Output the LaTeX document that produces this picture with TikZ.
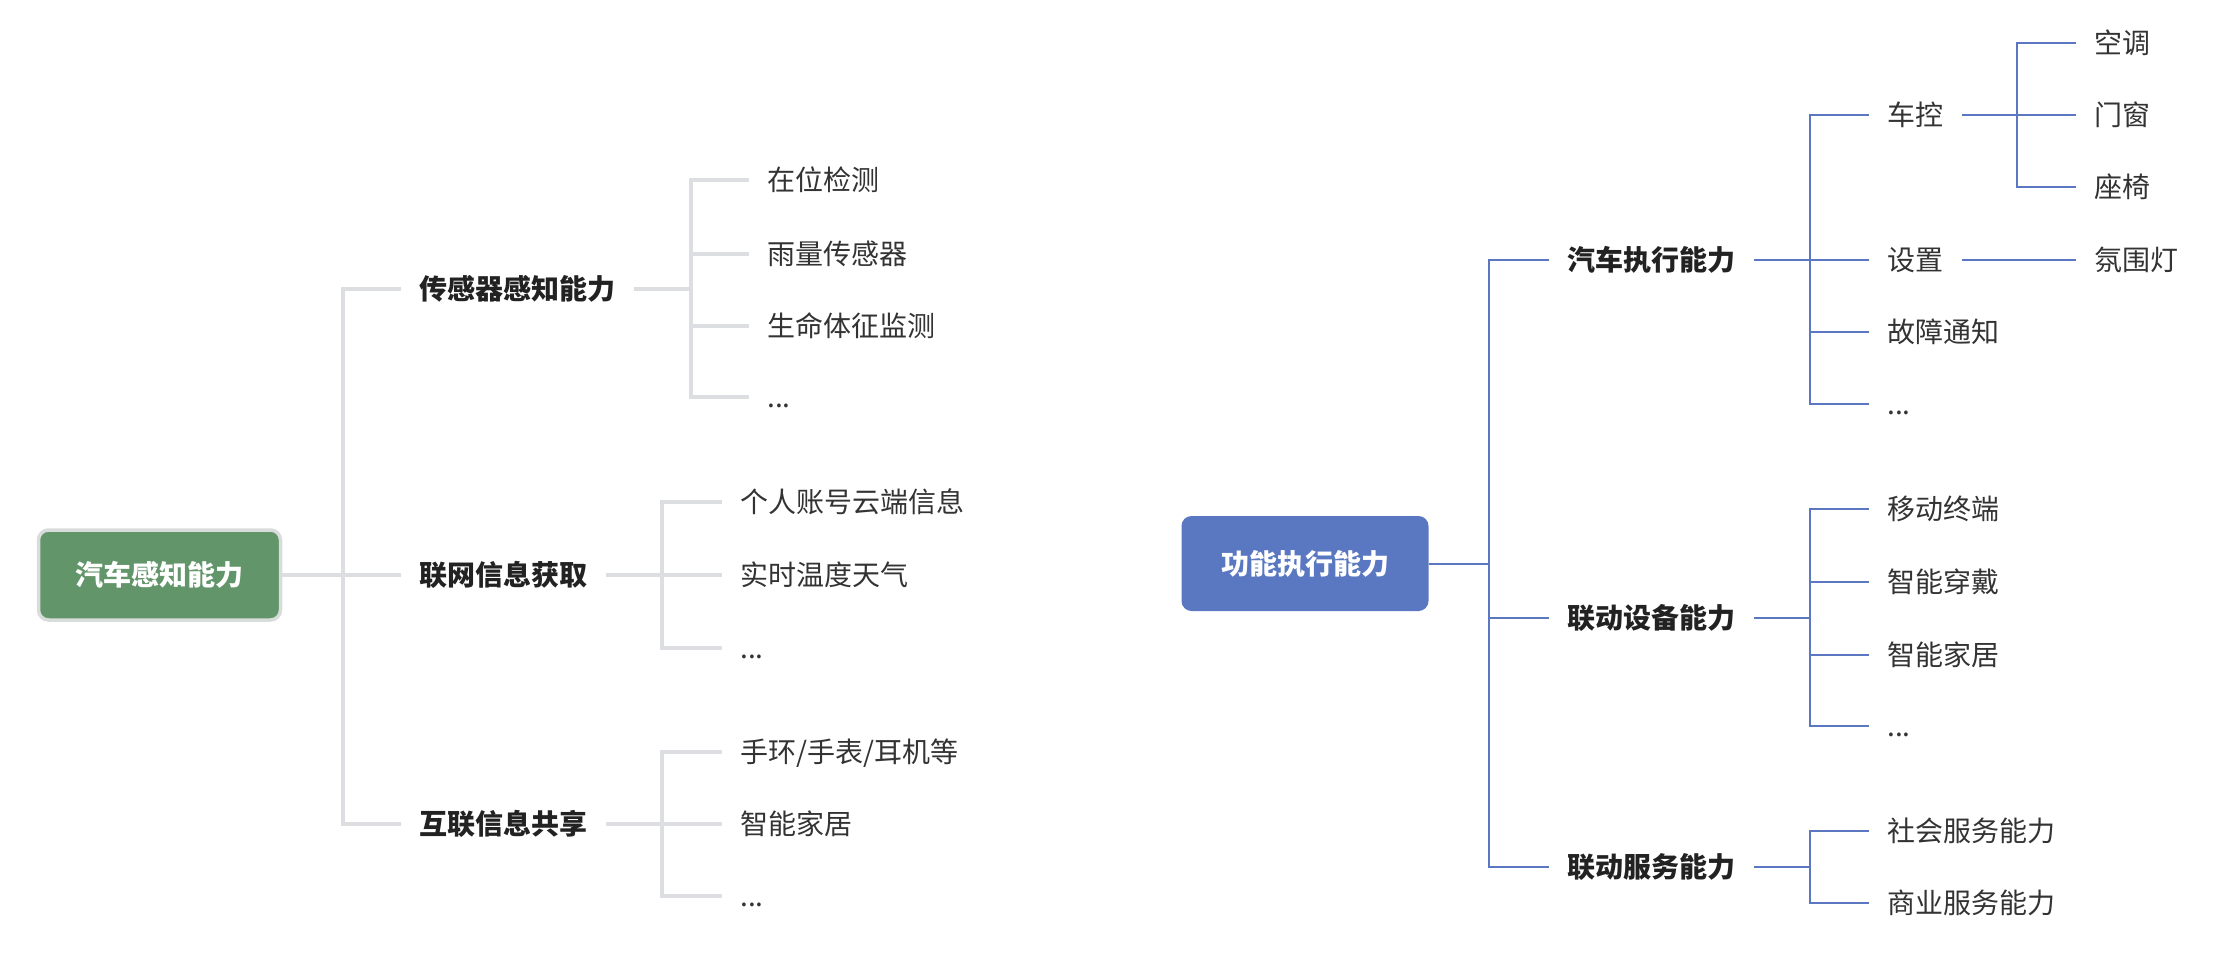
\documentclass[tikz,border=0pt]{standalone}
\usepackage{fontspec}
\newfontfamily\cjk{Noto Sans CJK SC}
\definecolor{lineGray}{HTML}{DDDEE2}
\definecolor{lineBlue}{HTML}{5B77C2}
\definecolor{rootGreen}{HTML}{62956A}
\definecolor{rootBorder}{HTML}{D8DCDA}
\definecolor{rootBlue}{HTML}{5A78C1}
\definecolor{txtDark}{HTML}{222222}
\definecolor{txtLeaf}{HTML}{333333}
\tikzset{
  txtbase/.style={anchor=west, inner xsep=9pt, inner ysep=0pt, text height=12pt, text depth=2pt},
  lvlone/.style={txtbase, font=\cjk\bfseries\fontsize{14pt}{16pt}\selectfont, text=txtDark},
  leaf/.style={txtbase, font=\cjk\fontsize{14pt}{16pt}\selectfont, text=txtLeaf},
  rootbox/.style={rounded corners=5pt, font=\cjk\bfseries\fontsize{14pt}{16pt}\selectfont, text=white, inner sep=0pt},
  gl/.style={draw=lineGray, line width=2pt},
  bl/.style={draw=lineBlue, line width=1pt}
}
\begin{document}
\begin{tikzpicture}[x=0.5pt, y=-0.5pt]
\useasboundingbox (0,0) rectangle (2224,966);

% ---------- left tree ----------
\node[rootbox, fill=rootGreen, draw=rootBorder, line width=1.75pt, minimum width=121pt, minimum height=45pt] (rootA) at (159.5,575) {汽车感知能力};
\coordinate (jR) at (343,575);
\node[lvlone] (s1) at (401,289) {传感器感知能力};
\node[lvlone] (s2) at (401,575) {联网信息获取};
\node[lvlone] (s3) at (401,824) {互联信息共享};
\draw[gl] (rootA.east) -- (jR);
\draw[gl] (jR) |- (s1.west);
\draw[gl] (jR) |- (s2.west);
\draw[gl] (jR) |- (s3.west);

\coordinate (jS1) at (691,289);
\node[leaf] (a1) at (749,180) {在位检测};
\node[leaf] (a2) at (749,254) {雨量传感器};
\node[leaf] (a3) at (749,326) {生命体征监测};
\node[leaf] (a4) at (749,397) {...};
\draw[gl] (s1.east) -- (jS1);
\foreach \n in {a1,a2,a3,a4} \draw[gl] (jS1) |- (\n.west);

\coordinate (jS2) at (662,575);
\node[leaf] (b1) at (722,502) {个人账号云端信息};
\node[leaf] (b2) at (722,575) {实时温度天气};
\node[leaf] (b3) at (722,648) {...};
\draw[gl] (s2.east) -- (jS2);
\foreach \n in {b1,b2,b3} \draw[gl] (jS2) |- (\n.west);

\coordinate (jS3) at (662,824);
\node[leaf] (c1) at (722,752) {手环/手表/耳机等};
\node[leaf] (c2) at (722,824) {智能家居};
\node[leaf] (c3) at (722,896) {...};
\draw[gl] (s3.east) -- (jS3);
\foreach \n in {c1,c2,c3} \draw[gl] (jS3) |- (\n.west);

% ---------- right tree ----------
\node[rootbox, fill=rootBlue, minimum width=123.5pt, minimum height=47.5pt] (rootB) at (1305,563.5) {功能执行能力};
\coordinate (jR2) at (1489,563.5);
\node[lvlone] (t1) at (1549,260) {汽车执行能力};
\node[lvlone] (t2) at (1549,618) {联动设备能力};
\node[lvlone] (t3) at (1549,867) {联动服务能力};
\draw[bl] (rootB.east) -- (jR2);
\draw[bl] (jR2) |- (t1.west);
\draw[bl] (jR2) |- (t2.west);
\draw[bl] (jR2) |- (t3.west);

\coordinate (jT1) at (1810,260);
\node[leaf] (d1) at (1869,115) {车控};
\node[leaf] (d2) at (1869,260) {设置};
\node[leaf] (d3) at (1869,332) {故障通知};
\node[leaf] (d4) at (1869,404) {...};
\draw[bl] (t1.east) -- (jT1);
\foreach \n in {d1,d2,d3,d4} \draw[bl] (jT1) |- (\n.west);

\coordinate (jC) at (2017,115);
\node[leaf] (e1) at (2076,43) {空调};
\node[leaf] (e2) at (2076,115) {门窗};
\node[leaf] (e3) at (2076,187) {座椅};
\draw[bl] (d1.east) -- (jC);
\foreach \n in {e1,e2,e3} \draw[bl] (jC) |- (\n.west);

\node[leaf] (f1) at (2076,260) {氛围灯};
\draw[bl] (d2.east) -- (f1.west);

\coordinate (jT2) at (1810,618);
\node[leaf] (g1) at (1869,509) {移动终端};
\node[leaf] (g2) at (1869,582) {智能穿戴};
\node[leaf] (g3) at (1869,655) {智能家居};
\node[leaf] (g4) at (1869,726) {...};
\draw[bl] (t2.east) -- (jT2);
\foreach \n in {g1,g2,g3,g4} \draw[bl] (jT2) |- (\n.west);

\coordinate (jT3) at (1810,867);
\node[leaf] (h1) at (1869,831) {社会服务能力};
\node[leaf] (h2) at (1869,903) {商业服务能力};
\draw[bl] (t3.east) -- (jT3);
\foreach \n in {h1,h2} \draw[bl] (jT3) |- (\n.west);
\end{tikzpicture}
\end{document}
